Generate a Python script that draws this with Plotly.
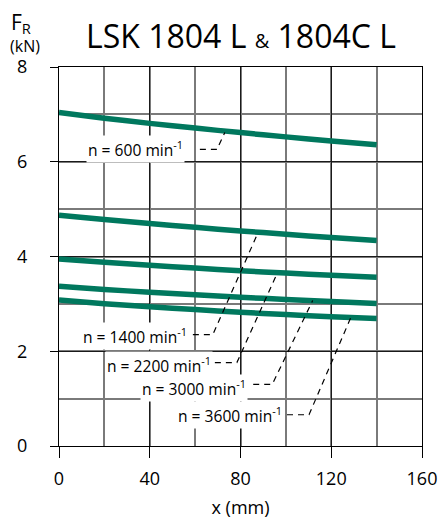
import plotly.graph_objects as go

# ---- data ----
x_mm = [0, 20, 40, 60, 80, 100, 120, 140]
fr_600 = [7.04, 6.92, 6.81, 6.71, 6.615, 6.525, 6.44, 6.36]
fr_1400 = [4.87, 4.78, 4.695, 4.615, 4.54, 4.47, 4.40, 4.34]
fr_2200 = [3.95, 3.88, 3.815, 3.755, 3.70, 3.65, 3.603, 3.56]
fr_3000 = [3.37, 3.305, 3.245, 3.19, 3.14, 3.093, 3.05, 3.01]
fr_3600 = [3.08, 3.005, 2.939, 2.879, 2.824, 2.774, 2.73, 2.69]

speeds = ["600", "1400", "2200", "3000", "3600"]
series = [fr_600, fr_1400, fr_2200, fr_3000, fr_3600]

x_ticks = [0, 40, 80, 120, 160]
y_ticks = [0, 2, 4, 6, 8]

# ---- label / leader layout (annotation geometry) ----
label_pos = {  # right edge x, middle y
    "600": (55.5, 6.26),
    "1400": (57.5, 2.33),
    "2200": (68.0, 1.72),
    "3000": (83.5, 1.23),
    "3600": (99.0, 0.66),
}
leaders = {
    "600": ([62.1, 69.6, 73.1], [6.26, 6.26, 6.62]),
    "1400": ([59.0, 67.8, 87.7], [2.35, 2.35, 4.50]),
    "2200": ([68.7, 78.4, 96.2], [1.76, 1.76, 3.65]),
    "3000": ([85.6, 94.0, 111.8], [1.30, 1.30, 3.07]),
    "3600": ([100.5, 110.2, 128.7], [0.66, 0.66, 2.72]),
}

GREEN = "#00785E"
FONT = "Open Sans"

fig = go.Figure()
for sp, ys in zip(speeds, series):
    fig.add_trace(go.Scatter(x=x_mm, y=ys, mode="lines", line=dict(color=GREEN, width=5.5, shape="spline", smoothing=0.8),
                             hoverinfo="skip", showlegend=False))

annotations = []
for sp in speeds:
    lx, ly = leaders[sp]
    fig.add_trace(go.Scatter(x=lx, y=ly, mode="lines", line=dict(color="black", width=1.2, dash="6px,5px"),
                             hoverinfo="skip", showlegend=False))
    ax, ay = label_pos[sp]
    annotations.append(dict(x=ax, y=ay, xref="x", yref="y", xanchor="right", yanchor="middle",
                            text=f"n = {sp} min<sup>-1</sup>", showarrow=False, bgcolor="white",
                            borderpad=1, font=dict(family=FONT, size=15.6, color="black")))

annotations += [
    dict(x=0.5, xref="paper", y=1.0, yref="paper", yshift=8, xanchor="center", yanchor="bottom",
         text="LSK 1804 L <span style='font-size:20px'>&amp;</span> 1804C L", showarrow=False,
         font=dict(family=FONT, size=32, color="black")),
    dict(x=-0.105, xref="paper", y=1.0, yref="paper", yshift=27, xanchor="center", yanchor="bottom",
         text="F<sub>R</sub>", showarrow=False, font=dict(family=FONT, size=21, color="black")),
    dict(x=-0.094, xref="paper", y=1.0, yref="paper", yshift=8, xanchor="center", yanchor="bottom",
         text="(kN)", showarrow=False, font=dict(family=FONT, size=16, color="black")),
]

fig.update_layout(
    width=440, height=520,
    margin=dict(l=59, r=18, t=67, b=74),
    paper_bgcolor="white", plot_bgcolor="white",
    font=dict(family=FONT, size=18, color="black"),
    annotations=annotations,
    xaxis=dict(range=[0, 160], tickvals=x_ticks, ticks="outside", ticklen=11, tickwidth=1.3,
               tickcolor="black", showline=True, linecolor="black", linewidth=1.3, mirror=True,
               showgrid=True, gridcolor="#1a1a1a", gridwidth=1.2, zeroline=False,
               minor=dict(dtick=20, showgrid=True, gridcolor="#7a7a7a", gridwidth=1.5, ticks=""),
               title=dict(text="x (mm)", font=dict(size=18), standoff=12),
               tickfont=dict(size=18), ticklabelstandoff=5, automargin=False, fixedrange=True),
    yaxis=dict(range=[0, 8], tickvals=y_ticks, ticks="outside", ticklen=8, tickwidth=1.3,
               tickcolor="black", showline=True, linecolor="black", linewidth=1.3, mirror=True,
               showgrid=True, gridcolor="#1a1a1a", gridwidth=1.2, zeroline=False,
               minor=dict(dtick=1, showgrid=True, gridcolor="#7a7a7a", gridwidth=1.5, ticks=""),
               tickfont=dict(size=18), ticklabelstandoff=19, automargin=False, fixedrange=True),
)

fig.write_html("out.html", config={"displayModeBar": False},
               post_script="document.body.style.margin='0';document.body.style.overflow='hidden';")
